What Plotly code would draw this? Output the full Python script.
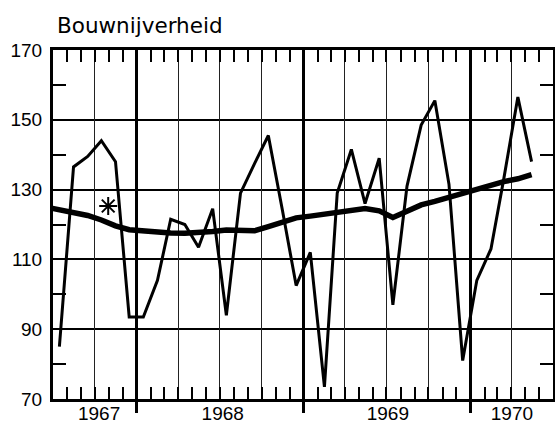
import pandas as pd
import plotly.graph_objects as go

# Months (mid-month positions), June 1967 .. May 1970
months = pd.date_range("1967-06-01", "1970-05-01", freq="MS")
month_mid = [m + pd.Timedelta(days=14) for m in months]

# Monthly index values (thin line); June 1967 not shown
index_values = [None,
                85, 136.5, 139.5, 144, 138, 93.5,
                93.5, 104, 121.5, 120, 113.5, 124.5, 94, 129, 137.5, 145.5, 124, 102.5,
                112, 73.5, 129, 141.5, 126, 139, 97, 131, 148.5, 155.5, 131.5, 81,
                104, 113, 133, 156.5, 138]

# Trend (thick line)
trend_values = [125.0,
                124.3, 123.7, 122.6, 121.3, 119.6, 118.5,
                118.1, 117.8, 117.6, 117.5, 117.6, 118.0, 118.4, 118.4, 118.2, 119.4, 120.8, 121.9,
                122.4, 122.9, 123.4, 124.0, 124.6, 123.9, 122.0, 123.8, 125.6, 126.6, 127.8, 129.1,
                130.3, 131.3, 132.3, 133.1, 134.3]

# Marker for the asterisk annotation
star_x = ["1967-10-30"]
star_y = [125.3]

title_text = "Bouwnijverheid"
year_labels = ["1967", "1968", "1969", "1970"]
year_label_pos = ["1967-10-10", "1968-07-07", "1969-07-04", "1970-04-02"]
month_ticks = [str(m.date()) for m in pd.date_range("1967-08-01", "1970-06-01", freq="MS")]
quarter_lines = ["1967-10-01", "1968-04-01", "1968-07-01", "1968-10-01",
                 "1969-04-01", "1969-07-01", "1969-10-01", "1970-04-01"]
year_lines = ["1968-01-01", "1969-01-01", "1970-01-01"]
y_major = [70, 90, 110, 130, 150, 170]
y_minor = [80, 100, 120, 140, 160]

x_range = ["1967-07-01", "1970-07-01"]
y_range = [70, 170]
tick_font = dict(family="Liberation Sans, Arial, sans-serif", size=19, color="black")

fig = go.Figure()

# helper (invisible) traces so that the overlay axes get drawn
for xa, ya in [("x2", "y"), ("x3", "y"), ("x4", "y"), ("x", "y2")]:
    fig.add_trace(go.Scatter(x=[x_range[0]], y=[y_range[0]], xaxis=xa, yaxis=ya,
                             mode="markers", marker=dict(opacity=0, size=1),
                             showlegend=False, hoverinfo="skip"))

fig.add_trace(go.Scatter(x=month_mid, y=trend_values, mode="lines",
                         line=dict(color="black", width=5.5), showlegend=False, hoverinfo="skip"))
fig.add_trace(go.Scatter(x=month_mid, y=index_values, mode="lines",
                         line=dict(color="black", width=3), showlegend=False, connectgaps=False))
fig.add_trace(go.Scatter(x=star_x, y=star_y, mode="markers",
                         marker=dict(symbol="asterisk-open", size=15, color="black",
                                     line=dict(color="black", width=2)),
                         showlegend=False))

common_x = dict(type="date", range=x_range, automargin=False, zeroline=False)

fig.update_layout(
    width=555, height=426,
    margin=dict(l=53, r=2, t=50, b=27),
    paper_bgcolor="white", plot_bgcolor="white",
    xaxis=dict(
        **common_x,
        tickvals=year_label_pos, ticktext=year_labels,
        ticks="", showgrid=False,
        showline=True, linecolor="black", linewidth=3, mirror=True,
        tickfont=tick_font, ticklabelstandoff=-5,
    ),
    xaxis2=dict(
        **common_x, overlaying="x", anchor="y",
        tickvals=month_ticks, showgrid=False,
        ticks="inside", ticklen=12, tickwidth=1.6, tickcolor="black", mirror="ticks",
        showticklabels=False, showline=False,
    ),
    xaxis3=dict(
        **common_x, overlaying="x", anchor="y",
        tickvals=quarter_lines, showgrid=True, gridcolor="#222", gridwidth=1.2,
        ticks="", showticklabels=False, showline=False,
    ),
    xaxis4=dict(
        **common_x, overlaying="x", anchor="y",
        tickvals=year_lines, showgrid=True, gridcolor="black", gridwidth=2.5,
        ticks="outside", ticklen=13, tickwidth=2.5, tickcolor="black",
        showticklabels=False, showline=False,
    ),
    yaxis=dict(
        range=y_range, tickvals=y_major, automargin=False,
        showgrid=True, gridcolor="black", gridwidth=2,
        ticks="", zeroline=False,
        showline=True, linecolor="black", linewidth=3, mirror=True,
        tickfont=tick_font, ticklabelstandoff=4,
    ),
    yaxis2=dict(
        range=y_range, tickvals=y_minor, overlaying="y", anchor="x", side="left",
        automargin=False, showgrid=False, zeroline=False, showline=False,
        ticks="inside", ticklen=13, tickwidth=2, tickcolor="black", mirror="ticks",
        showticklabels=False,
    ),
    annotations=[dict(
        text=title_text, xref="paper", yref="paper", x=0, y=1,
        xanchor="left", yanchor="bottom", xshift=2, yshift=10, showarrow=False,
        font=dict(family="DejaVu Sans", size=21.5, color="black"),
    )],
)

fig.write_html("out.html",
               config={"displayModeBar": False},
               post_script="document.body.style.margin='0px';document.body.style.overflow='hidden';")
